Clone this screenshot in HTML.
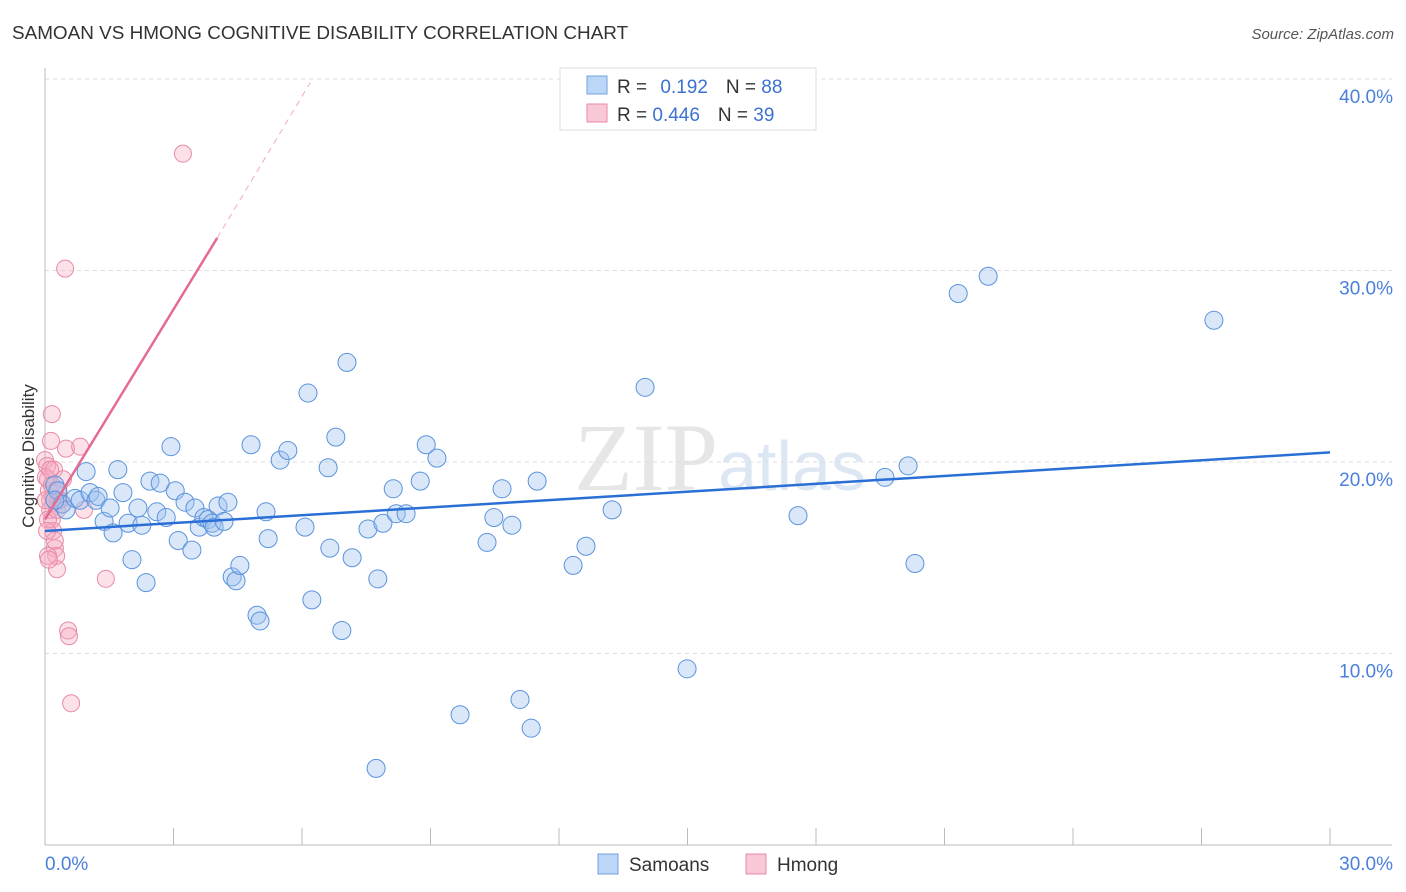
<!DOCTYPE html>
<html><head><meta charset="utf-8"><style>
body{margin:0;background:#fff;font-family:"Liberation Sans",sans-serif}
svg{display:block}
</style></head><body>
<svg id="chart" width="1406" height="892">
<text x="12" y="39" font-size="18.9" fill="#333">SAMOAN VS HMONG COGNITIVE DISABILITY CORRELATION CHART</text>
<text x="1394" y="39" font-size="15" fill="#555" font-style="italic" text-anchor="end">Source: ZipAtlas.com</text>
<text x="720" y="490" font-size="96" fill="#e6e6e6" text-anchor="middle" font-family="Liberation Serif,serif">ZIP<tspan fill="#dde6f3" font-family="Liberation Sans,sans-serif" font-size="70">atlas</tspan></text>
<g id="grid"></g><g id="axes"></g><g id="marks"></g>
<text x="34" y="456" font-size="17" fill="#333" text-anchor="middle" transform="rotate(-90 34 456)">Cognitive Disability</text>
<g>
<rect x="560" y="68" width="256" height="62" fill="#fff" stroke="#ddd"/>
<rect x="587" y="76" width="20" height="18" fill="#bcd6f7" stroke="#6fa0e0"/>
<rect x="587" y="104" width="20" height="18" fill="#f9c8d6" stroke="#e88aa6"/>
<text x="617" y="93" font-size="19" fill="#333">R = <tspan fill="#3b72d1" dx="8">0.192</tspan><tspan dx="18" fill="#333">N = </tspan><tspan fill="#3b72d1">88</tspan></text>
<text x="617" y="121" font-size="19" fill="#333">R = <tspan fill="#3b72d1">0.446</tspan><tspan dx="18" fill="#333">N = </tspan><tspan fill="#3b72d1">39</tspan></text>
</g>
<g>
<rect x="598" y="854" width="20" height="20" fill="#bcd6f7" stroke="#6fa0e0"/>
<text x="629" y="871" font-size="19" fill="#333">Samoans</text>
<rect x="746" y="854" width="20" height="20" fill="#f9c8d6" stroke="#e88aa6"/>
<text x="777" y="871" font-size="19" fill="#333">Hmong</text>
</g>
</svg>
<script>
const blueX=[.23,.30,.40,.49,.70,.82,.96,1.05,1.19,1.24,1.38,1.52,1.59,1.70,1.82,1.94,2.03,2.17,2.26,2.36,2.45,2.61,2.69,2.83,2.94,3.04,3.11,3.27,3.43,3.50,3.60,3.71,3.81,3.90,3.95,4.04,4.18,4.27,4.37,4.46,4.55,4.81,4.95,5.02,5.16,5.21,5.49,5.67,6.07,6.14,6.23,6.61,6.65,6.79,6.93,7.05,7.17,7.54,7.77,7.89,8.13,8.20,8.43,8.76,8.90,9.15,9.69,10.32,10.48,10.67,10.90,11.09,11.35,11.49,12.33,12.63,13.24,14.01,14.99,17.58,19.61,20.15,20.31,21.32,22.02,27.29,7.73,.23];
const blueY=[18.8,18.5,17.8,17.5,18.1,18.0,19.5,18.4,18.0,18.2,16.9,17.6,16.3,19.6,18.4,16.8,14.9,17.6,16.7,13.7,19.0,17.4,18.9,17.1,20.8,18.5,15.9,17.9,15.4,17.6,16.6,17.1,17.0,16.8,16.6,17.7,16.9,17.9,14.0,13.8,14.6,20.9,12.0,11.7,17.4,16.0,20.1,20.6,16.6,23.6,12.8,19.7,15.5,21.3,11.2,25.2,15.0,16.5,13.9,16.8,18.6,17.3,17.3,19.0,20.9,20.2,6.8,15.8,17.1,18.6,16.7,7.6,6.1,19.0,14.6,15.6,17.5,23.9,9.2,17.2,19.2,19.8,14.7,28.8,29.7,27.4,4.0,18.0];
const pinkX=[0,.05,.07,.09,.12,.16,.19,.23,.26,.28,.14,.16,.12,.07,.02,.21,.30,.40,.49,.54,.56,.61,.82,.91,1.42,.47,3.22,.35,.42,.16,.07,.12,.23,.28,.19,.02,.30,.05,.09];
const pinkY=[20.1,19.8,19.1,18.5,18.0,17.0,16.4,15.5,15.1,14.4,21.1,22.5,17.5,15.1,19.2,19.6,18.0,17.8,20.7,11.2,10.9,7.4,20.8,17.5,13.9,30.1,36.1,18.0,19.1,18.8,17.0,19.6,15.9,17.5,18.1,18.0,18.5,16.4,14.9];
const yTicks=[10,20,30,40];
const yTickLabels=["10.0%","20.0%","30.0%","40.0%"];
const blueTrend=[[0,16.4],[30,20.5]];
const pinkTrendSolid=[[0,17.0],[4.02,31.7]];
const pinkTrendDash=[[4.02,31.7],[6.19,39.8]];
const NS="http://www.w3.org/2000/svg";
const X0=45,X1=1330,Y0=845,PXY=19.15;
const sx=v=>X0+v*(X1-X0)/30, sy=v=>Y0-v*PXY;
function mk(tag,attrs,parent){const e=document.createElementNS(NS,tag);for(const k in attrs)e.setAttribute(k,attrs[k]);document.getElementById(parent).appendChild(e);return e;}
yTicks.forEach((t,i)=>{
 const g=mk('line',{x1:X0,x2:1392,y1:sy(t),y2:sy(t),stroke:'#ddd','stroke-dasharray':'4,4'},'grid');
 
 
 const l=mk('text',{x:1393,y:sy(t)+24,'font-size':19,fill:'#4a80dc','text-anchor':'end'},'grid');
 l.textContent=yTickLabels[i];
 
 
});
mk('line',{x1:X0,x2:X0,y1:68,y2:Y0,stroke:'#bbb'},'axes');
mk('line',{x1:X0,x2:1392,y1:Y0,y2:Y0,stroke:'#bbb'},'axes');
for(let i=1;i<=10;i++){const x=sx(i*3);mk('line',{x1:x,x2:x,y1:828,y2:Y0,stroke:'#bbb'},'axes');}
const xl0=mk('text',{x:45,y:870,'font-size':19,fill:'#4a80dc'},'axes');xl0.textContent='0.0%';


const xl1=mk('text',{x:1393,y:870,'font-size':19,fill:'#4a80dc','text-anchor':'end'},'axes');xl1.textContent='30.0%';


pinkX.forEach((v,i)=>{const c=mk('circle',{cx:sx(v),cy:sy(pinkY[i]),r:8.5,fill:'rgba(246,170,192,0.35)',stroke:'#e88aa6','stroke-width':1},'marks');
 
 });
blueX.forEach((v,i)=>{const c=mk('circle',{cx:sx(v),cy:sy(blueY[i]),r:9,fill:'rgba(160,196,240,0.4)',stroke:'#5a93dd','stroke-width':1},'marks');
 
 });
const bt=mk('line',{x1:sx(blueTrend[0][0]),y1:sy(blueTrend[0][1]),x2:sx(blueTrend[1][0]),y2:sy(blueTrend[1][1]),stroke:'#2a6fd6','stroke-width':2.5},'marks');


const pt=mk('line',{x1:sx(pinkTrendSolid[0][0]),y1:sy(pinkTrendSolid[0][1]),x2:sx(pinkTrendSolid[1][0]),y2:sy(pinkTrendSolid[1][1]),stroke:'#e46b93','stroke-width':2.5},'marks');


const pd=mk('line',{x1:sx(pinkTrendDash[0][0]),y1:sy(pinkTrendDash[0][1]),x2:sx(pinkTrendDash[1][0]),y2:sy(pinkTrendDash[1][1]),stroke:'#eeaabf','stroke-width':1,'stroke-dasharray':'6,5'},'marks');


</script>
</body></html>
